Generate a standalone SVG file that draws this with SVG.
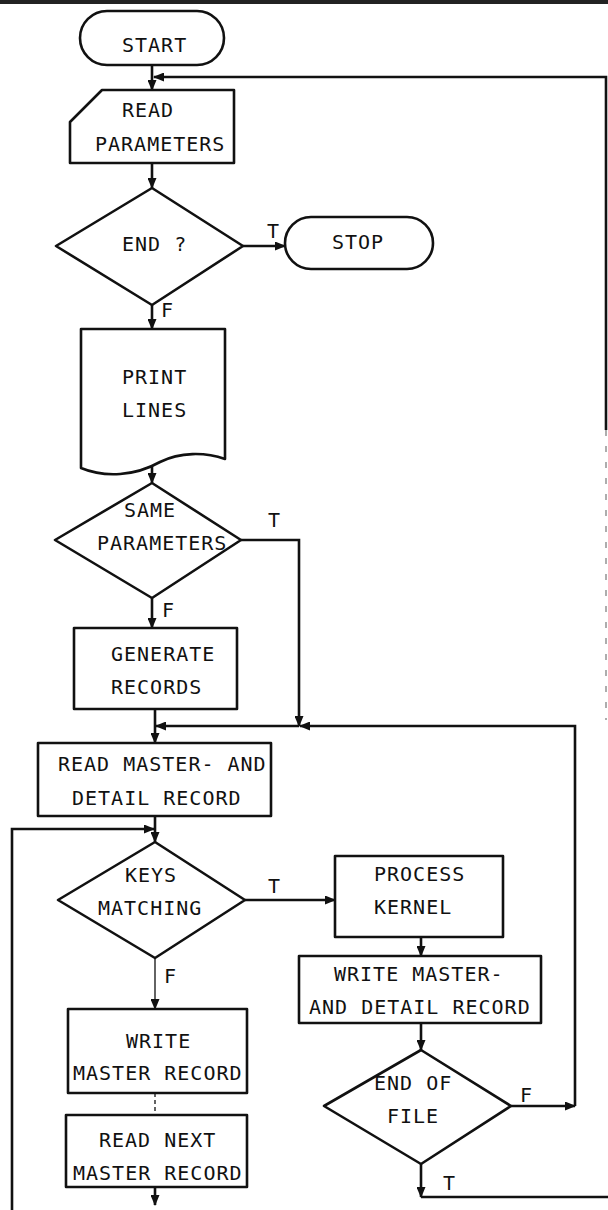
<svg xmlns="http://www.w3.org/2000/svg" width="608" height="1210" viewBox="0 0 608 1210">
<style>
.s{fill:#fff;stroke:#111;stroke-width:2.6;stroke-linejoin:round}
.t{font-family:"DejaVu Sans Mono","Liberation Mono",monospace;font-size:20px;letter-spacing:1px;fill:#111}
.c{fill:none;stroke:#111;stroke-width:2.6}
.thin{fill:none;stroke:#222;stroke-width:1.4}
</style>
<defs>
<marker id="a" markerUnits="userSpaceOnUse" markerWidth="11" markerHeight="9" refX="10" refY="4.5" orient="auto">
<path d="M0,0 L11,4.5 L0,9 Z" fill="#111"/>
</marker>
</defs>
<rect x="0" y="0" width="608" height="4" fill="#222"/>
<g id="connectors">
<path class="c" d="M152,65 V90" marker-end="url(#a)"/>
<path class="c" d="M606,430 V77 H154" marker-end="url(#a)"/>
<path d="M606,430 V720" fill="none" stroke="#999" stroke-width="1.6" stroke-dasharray="6,10"/>
<path class="c" d="M152,163 V188" marker-end="url(#a)"/>
<path class="c" d="M243,246 H285" marker-end="url(#a)"/>
<path class="c" d="M152,305 V329" marker-end="url(#a)"/>
<path class="c" d="M152,464 V483" marker-end="url(#a)"/>
<path class="c" d="M152,598 V628" marker-end="url(#a)"/>
<path class="c" d="M241,540 H299 V726" marker-end="url(#a)"/>
<path class="c" d="M155,709 V743" marker-end="url(#a)"/>
<path class="c" d="M511,1106 H575" marker-end="url(#a)"/>
<path class="c" d="M575,1106 V726 H300" marker-end="url(#a)"/>
<path class="c" d="M299,726 H156" marker-end="url(#a)"/>
<path class="c" d="M155,816 V842" marker-end="url(#a)"/>
<path class="c" d="M12,1210 V829 H154" marker-end="url(#a)"/>
<path class="c" d="M245,900 H335" marker-end="url(#a)"/>
<path class="thin" d="M155,958 V1009" marker-end="url(#a)"/>
<path class="c" d="M421,937 V956" marker-end="url(#a)"/>
<path class="c" d="M421,1023 V1050" marker-end="url(#a)"/>
<path class="c" d="M421,1164 V1197" marker-end="url(#a)"/>
<path class="c" d="M421,1197 H608"/>
<path class="thin" d="M155,1093 V1115" stroke-dasharray="4,3"/>
<path class="c" d="M155,1187 V1205" marker-end="url(#a)"/>
</g>
<g id="start"><rect class="s" x="80" y="11" width="144" height="54" rx="27"/><text class="t" x="122" y="52">START</text></g>
<g id="read_parameters"><path class="s" d="M102,90 H234 V163 H70 V122 Z"/><text class="t" x="122" y="117">READ</text><text class="t" x="95" y="151">PARAMETERS</text></g>
<g id="end_decision"><polygon class="s" points="152,188 243,246 152,305 56,246"/><text class="t" x="122" y="251">END ?</text></g>
<g id="stop"><rect class="s" x="285" y="217" width="148" height="52" rx="26"/><text class="t" x="332" y="249">STOP</text></g>
<g id="print_lines"><path class="s" d="M81,329 H225 V459 C205,452 180,452 160,462 C135,476 105,478 81,468 Z"/><text class="t" x="122" y="384">PRINT</text><text class="t" x="122" y="417">LINES</text></g>
<g id="same_parameters"><polygon class="s" points="152,483 241,540 152,598 55,540"/><text class="t" x="124" y="517">SAME</text><text class="t" x="97" y="550">PARAMETERS</text></g>
<g id="generate_records"><rect class="s" x="74" y="628" width="163" height="81"/><text class="t" x="111" y="661">GENERATE</text><text class="t" x="111" y="694">RECORDS</text></g>
<g id="read_master_detail"><rect class="s" x="38" y="743" width="233" height="73"/><text class="t" x="58" y="771">READ MASTER- AND</text><text class="t" x="72" y="805">DETAIL RECORD</text></g>
<g id="keys_matching"><polygon class="s" points="155,842 245,900 155,958 58,900"/><text class="t" x="125" y="882">KEYS</text><text class="t" x="98" y="915">MATCHING</text></g>
<g id="process_kernel"><rect class="s" x="335" y="856" width="168" height="81"/><text class="t" x="374" y="881">PROCESS</text><text class="t" x="374" y="914">KERNEL</text></g>
<g id="write_master_detail"><rect class="s" x="299" y="956" width="242" height="67"/><text class="t" x="334" y="981">WRITE MASTER-</text><text class="t" x="309" y="1014">AND DETAIL RECORD</text></g>
<g id="write_master"><rect class="s" x="68" y="1009" width="179" height="84"/><text class="t" x="126" y="1048">WRITE</text><text class="t" x="73" y="1080">MASTER RECORD</text></g>
<g id="read_next_master"><rect class="s" x="66" y="1115" width="181" height="72"/><text class="t" x="99" y="1147">READ NEXT</text><text class="t" x="73" y="1180">MASTER RECORD</text></g>
<g id="end_of_file"><polygon class="s" points="421,1050 511,1106 421,1164 324,1106"/><text class="t" x="374" y="1090">END OF</text><text class="t" x="387" y="1123">FILE</text></g>
<g id="labels">
<text class="t" x="267" y="238">T</text>
<text class="t" x="161" y="317">F</text>
<text class="t" x="268" y="527">T</text>
<text class="t" x="162" y="617">F</text>
<text class="t" x="268" y="893">T</text>
<text class="t" x="164" y="983">F</text>
<text class="t" x="520" y="1102">F</text>
<text class="t" x="443" y="1190">T</text>
</g>
</svg>
